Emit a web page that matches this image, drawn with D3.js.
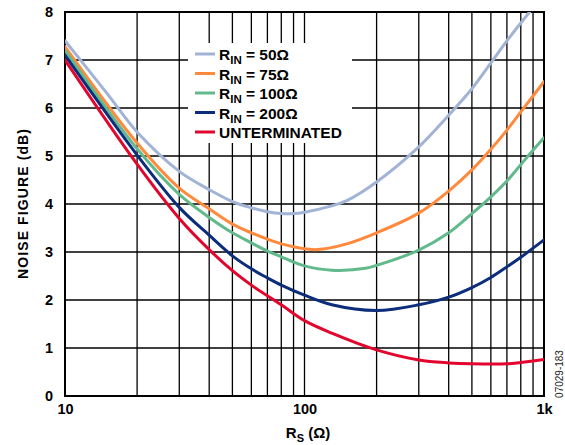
<!DOCTYPE html>
<html>
<head>
<meta charset="utf-8">
<script src="https://cdn.jsdelivr.net/npm/d3@7"></script>
<style>
  body { margin: 0; background: #fff; }
  svg { display: block; }
  text { font-family: "Liberation Sans", Arial, Helvetica, sans-serif; }
</style>
</head>
<body>
<svg id="chart" width="565" height="445"></svg>
<script>
// ---- Data ----
const seriesNames = ["50", "75", "100", "200", "UNTERMINATED"];
const seriesColors = ["#a2b4d6", "#ff8a3d", "#62b98b", "#0c2d7c", "#e2062e"];

const rin50 = [
  [10, 7.40], [15, 6.30], [20, 5.50], [30, 4.68], [40, 4.30], [50, 4.05], [60, 3.92],
  [70, 3.84], [80, 3.80], [90, 3.80], [100, 3.83], [130, 3.96], [150, 4.07],
  [200, 4.46], [300, 5.19], [400, 5.85], [500, 6.40], [600, 6.94], [700, 7.40], [870, 8.00]
];
const rin75 = [
  [10, 7.28], [20, 5.27], [30, 4.33], [40, 3.90], [50, 3.58], [60, 3.40], [70, 3.27],
  [80, 3.17], [90, 3.11], [100, 3.07], [113, 3.05], [150, 3.17], [200, 3.40],
  [300, 3.81], [400, 4.27], [500, 4.71], [600, 5.14], [700, 5.54], [800, 5.92],
  [900, 6.25], [1000, 6.55]
];
const rin100 = [
  [10, 7.20], [20, 5.15], [30, 4.20], [40, 3.72], [50, 3.40], [60, 3.19], [70, 3.02],
  [80, 2.90], [90, 2.79], [100, 2.71], [130, 2.62], [180, 2.66], [200, 2.72],
  [300, 3.04], [400, 3.40], [500, 3.80], [600, 4.15], [700, 4.48], [800, 4.82],
  [900, 5.12], [1000, 5.38]
];
const rin200 = [
  [10, 7.10], [20, 5.02], [30, 3.93], [40, 3.35], [50, 2.92], [60, 2.65], [70, 2.46],
  [80, 2.31], [100, 2.10], [130, 1.90], [200, 1.78], [300, 1.90], [400, 2.06],
  [500, 2.26], [600, 2.47], [700, 2.69], [800, 2.89], [900, 3.08], [1000, 3.25]
];
const unterminated = [
  [10, 7.00], [20, 4.83], [30, 3.70], [40, 3.05], [50, 2.61], [60, 2.31], [80, 1.90],
  [100, 1.57], [130, 1.31], [200, 0.96], [300, 0.75], [400, 0.69], [500, 0.67],
  [700, 0.67], [800, 0.70], [1000, 0.76]
];
const allSeries = [rin50, rin75, rin100, rin200, unterminated];

const xGridValues = [20, 30, 40, 50, 60, 70, 80, 90, 100, 200, 300, 400, 500, 600, 700, 800, 900];
const xTickValues = [10, 100, 1000];
const xTickLabels = ["10", "100", "1k"];
const yTickValues = [0, 1, 2, 3, 4, 5, 6, 7, 8];

// ---- Layout ----
const svg = d3.select("#chart");
const L = 65, R = 544, T = 12, B = 396;
const x = d3.scaleLog().domain([10, 1000]).range([L, R]);
const y = d3.scaleLinear().domain([0, 8]).range([B, T]);

// gridlines
const grid = svg.append("g");
grid.selectAll("line.v").data(xGridValues).enter().append("line")
  .attr("x1", d => x(d)).attr("x2", d => x(d))
  .attr("y1", T).attr("y2", B)
  .attr("stroke", "#000").attr("stroke-width", 1.3);
grid.selectAll("line.h").data(yTickValues.slice(1, -1)).enter().append("line")
  .attr("x1", L).attr("x2", R)
  .attr("y1", d => y(d)).attr("y2", d => y(d))
  .attr("stroke", "#000").attr("stroke-width", 1.3);

// legend background box covering the grid
svg.append("rect").attr("x", 188).attr("y", 43).attr("width", 164).attr("height", 100)
  .attr("fill", "#fff");

// frame
svg.append("rect").attr("x", L).attr("y", T).attr("width", R - L).attr("height", B - T)
  .attr("fill", "none").attr("stroke", "#000").attr("stroke-width", 2);

// curves
const line = d3.line().x(d => x(d[0])).y(d => y(d[1])).curve(d3.curveCatmullRom.alpha(0.5));
svg.append("defs").append("clipPath").attr("id", "clip")
  .append("rect").attr("x", L).attr("y", T).attr("width", R - L).attr("height", B - T);
const curves = svg.append("g").attr("clip-path", "url(#clip)");
allSeries.forEach((s, i) => {
  curves.append("path").datum(s).attr("d", line)
    .attr("fill", "none").attr("stroke", seriesColors[i]).attr("stroke-width", 3)
    .attr("stroke-linejoin", "round").attr("stroke-linecap", "round");
});

// axes
const yAxis = svg.append("g").attr("transform", `translate(${L - 12},0)`)
  .call(d3.axisLeft(y).tickValues(yTickValues).tickSize(0).tickPadding(0).tickFormat(d3.format("d")));
yAxis.select(".domain").remove();
yAxis.selectAll("text").attr("font-size", 14.5).attr("font-weight", "bold").attr("fill", "#000")
  .attr("font-family", "Liberation Sans, Arial, sans-serif");

const xAxis = svg.append("g").attr("transform", `translate(0,${B + 8})`)
  .call(d3.axisBottom(x).tickValues(xTickValues).tickSize(0).tickPadding(0)
    .tickFormat((d, i) => xTickLabels[i]));
xAxis.select(".domain").remove();
xAxis.selectAll("text").attr("font-size", 14.5).attr("font-weight", "bold").attr("fill", "#000")
  .attr("font-family", "Liberation Sans, Arial, sans-serif");

// axis titles
svg.append("text")
  .attr("transform", "translate(28,204) rotate(-90)")
  .attr("text-anchor", "middle").attr("font-size", 14).attr("font-weight", "bold")
  .attr("textLength", 150).attr("lengthAdjust", "spacing")
  .text("NOISE FIGURE (dB)");

const xt = svg.append("text").attr("x", 308).attr("y", 438).attr("text-anchor", "middle")
  .attr("font-size", 15).attr("font-weight", "bold");
xt.append("tspan").text("R");
xt.append("tspan").attr("font-size", 11).attr("dy", 3.5).text("S");
xt.append("tspan").attr("dy", -3.5).text(" (Ω)");

// legend
const legendY = [54, 73.5, 93, 112.5, 132];
seriesNames.forEach((name, i) => {
  const ly = legendY[i];
  svg.append("line").attr("x1", 195).attr("x2", 215).attr("y1", ly).attr("y2", ly)
    .attr("stroke", seriesColors[i]).attr("stroke-width", 3);
  const t = svg.append("text").attr("x", 219).attr("y", ly + 6)
    .attr("font-size", 15.5).attr("font-weight", "bold").attr("fill", "#000");
  if (name === "UNTERMINATED") {
    t.text(name);
  } else {
    t.append("tspan").text("R");
    t.append("tspan").attr("font-size", 11.5).attr("dy", 4).text("IN");
    t.append("tspan").attr("dy", -4).text(" = " + name + "Ω");
  }
});

// figure id
svg.append("text").attr("transform", "translate(563,374) rotate(-90)")
  .attr("text-anchor", "middle").attr("font-size", 10).attr("fill", "#222")
  .text("07029-183");
</script>
</body>
</html>
